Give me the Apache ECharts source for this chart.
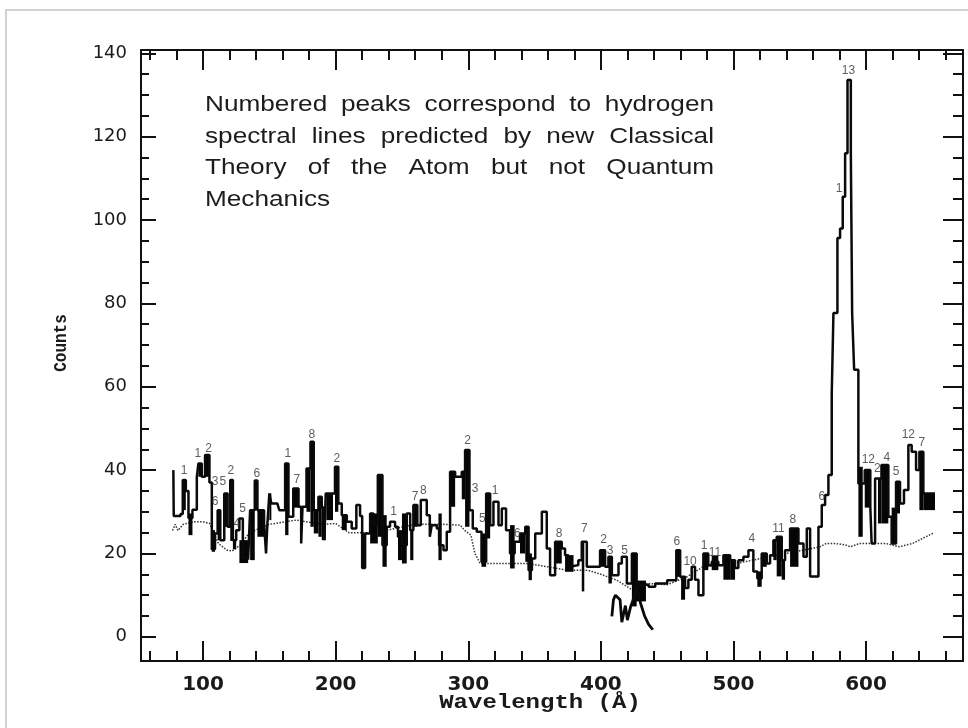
<!DOCTYPE html>
<html>
<head>
<meta charset="utf-8">
<title>Counts vs Wavelength</title>
<script src="https://cdn.jsdelivr.net/npm/echarts@6/dist/echarts.min.js"></script>
<style>
	html, body { margin: 0; padding: 0; background: #fff; }
	#chart { width: 968px; height: 728px; }
</style>
</head>
<body>
<div id="chart"></div>
<script>
	// measured spectrum, [wavelength, counts], each point = left edge of a bin (step line)
	var spectrum = [
		[77.6, 40], [77.9, 29], [83, 29.5], [84.7, 37.6], [87, 35], [89, 28.5], [92, 30.5], [95.3, 38.4],
		[96.5, 41.6], [99, 38.4], [101.5, 43.6], [104.8, 37], [106.6, 21], [109, 24.8], [111, 30.4], [113, 23.2],
		[116, 34.4], [118.5, 26.4], [120.5, 37.6], [122.5, 23.2], [125, 25.6], [127.4, 28.4], [130, 19], [134, 18.5],
		[135.5, 30.4], [139, 37.5], [141, 30.4], [146, 27.2], [147.5, 20], [148.5, 27], [150, 34.4], [151.5, 32],
		[156, 32.4], [157.5, 30.4], [161.9, 41.6], [164.4, 28.8], [168, 35.6], [172, 31.2], [174, 22.4], [175, 31.2],
		[178, 40.4], [181, 46.8], [183.5, 30.4], [187, 33.6], [189.5, 31], [191.5, 23.2], [192.5, 34.4], [199.5, 40.8],
		[202, 32], [204.6, 29.2], [208.4, 27.6], [212.1, 26], [215.6, 31.6], [218.4, 29], [220, 16.5], [222.2, 24.8],
		[226, 29.6], [228.5, 27], [231.8, 38.8], [235.3, 22], [238.5, 26.4], [241, 27.6], [244.8, 26.4], [247, 24],
		[250, 22], [253.6, 29.6], [256.2, 25.6], [258.6, 31.6], [261.6, 26.8], [264.2, 32.8], [268.7, 29.2], [271, 24],
		[272.5, 26.8], [276.3, 26], [278, 22], [281.3, 20.8], [283.8, 25.2], [286.3, 39.6], [290.1, 38.4], [295.1, 39.6],
		[297.6, 44.8], [300.9, 30.4], [303.4, 26], [306.4, 25.2], [310, 18], [313.5, 34.4], [316.5, 26.8], [319, 32.4],
		[322.8, 26.8], [325.3, 30.8], [328.5, 25.6], [331.5, 20], [335, 22.8], [339, 24.8], [343, 26.4], [345.5, 16],
		[348, 18.8], [350.5, 24.8], [355.5, 30], [359.2, 21.2], [361.7, 14.8], [365.5, 22.8], [370.5, 21.2], [373, 19.6],
		[375.5, 17], [379.4, 17.2], [383, 18.4], [385.6, 22.8], [389.4, 16.8], [399.4, 20.8], [403.2, 16.8], [405.7, 19.2],
		[408.3, 14.8], [413.3, 17.6], [415.8, 19.2], [419.6, 12.8], [423.4, 20], [427, 12.5], [436, 12], [441, 12.8],
		[450, 13.6], [456.9, 20.8], [459.8, 14.4], [463.5, 11.7], [466, 13.7], [468.5, 16.8], [471, 13.7], [473.6, 10],
		[477.3, 20], [481, 17.2], [483.6, 18], [488.6, 17.2], [492.4, 19.6], [497.5, 18.4], [501.2, 16.5], [503.7, 18.4],
		[507.5, 19.2], [511.3, 20.8], [515, 15.7], [518, 14], [521.3, 20], [525.1, 17.6], [527.6, 19.6], [530.1, 23.2],
		[532.6, 24], [536.4, 18.4], [538.9, 20.8], [542.7, 26], [549, 22.4], [552.8, 19.2], [555.3, 26], [557.8, 14.5],
		[564.1, 26.4], [566.6, 31.6], [569.1, 34], [571.6, 38.8], [574.1, 58], [575.4, 77.7], [578.4, 95.7], [580.4, 98],
		[582.4, 105.6], [584.2, 116], [586, 133.6], [588.5, 116.4], [589.5, 77.7], [591, 64.1], [594.2, 36.8], [599, 40],
		[603.2, 31.2], [604.2, 22.4], [606.8, 38], [611.6, 41.2], [616.8, 28.8], [619.3, 22.4], [622.6, 37.2], [625.6, 32],
		[628.6, 35.2], [631.9, 46], [634.4, 44.4], [637.7, 40], [640.2, 44.4], [643.2, 34.4], [652, 34.4]
	];

	// dark noisy stretches, [x from, x to, low, high]
	var noiseBlocks = [
		[84.7, 87, 30.4, 37.6], [89, 92, 24.4, 29.6], [96.5, 99, 38.4, 41.6], [101.5, 104.8, 38.4, 43.6],
		[106.6, 109, 20.4, 25.6], [111, 113, 23.2, 30.4], [116, 118, 26.4, 34.4], [120.5, 122.5, 23, 37.6],
		[122.5, 125, 21, 23.2], [127.4, 134, 17.7, 23.2], [135.5, 139, 18.4, 30.4], [139, 141, 30.4, 37.5],
		[141, 146, 24, 30.4], [150, 151.5, 28, 34.4], [161.9, 164.4, 24.4, 41.6], [168, 172, 31, 35.6],
		[178, 181, 30, 40.4], [181, 183.5, 26.4, 46.8], [183.5, 187, 24.8, 30.4], [187, 189.5, 24, 33.6],
		[189.5, 192.5, 23.2, 31], [193, 198, 28, 34.4], [199.5, 202, 30, 40.8], [204.6, 208.4, 25.6, 29.2],
		[220, 222.2, 16.5, 24.8], [226, 231.8, 22.4, 29.6], [231.8, 235.3, 24, 38.8], [235.3, 238.5, 16.8, 29.2],
		[247, 250, 18.4, 25.6], [250, 253.6, 17.6, 29.6], [256.2, 258.6, 18.4, 25.6], [258.6, 261.6, 26.4, 31.6],
		[277.5, 280, 18.4, 29.6], [286.3, 290.1, 31.2, 39.6], [295.1, 297.6, 33, 39.6], [297.6, 300.9, 26.4, 44.8],
		[310, 313.5, 16.8, 24.8], [313.5, 316.5, 23.6, 34.4], [331.5, 335, 16.4, 26.8], [339, 343, 20, 24.8],
		[343, 345.5, 18, 26.4], [345.5, 348, 13.6, 20], [365.5, 370.5, 17.6, 22.8], [373, 379.4, 15.6, 19.6],
		[385.6, 387.5, 10.9, 22.8], [399.4, 403.2, 16.8, 20.8], [405.7, 408.3, 12.8, 19.2], [423.4, 427, 7.3, 20],
		[424, 434, 8.5, 13.5], [456.9, 459.8, 14.4, 20.8], [460.5, 463.5, 8.9, 14.4], [477.3, 481, 16, 20],
		[483.6, 488.6, 16, 19.5], [492.4, 497.5, 13.7, 19.6], [497.5, 501.2, 13.7, 18.4], [518, 521.3, 12, 15.7],
		[521.3, 525.1, 16.8, 20], [530.1, 532.6, 18.4, 23.2], [532.6, 536.4, 14.5, 24], [536.4, 538.9, 13.7, 18.4],
		[542.7, 549, 16.8, 26], [594.2, 597.5, 24, 40.8], [599, 603.2, 31, 40], [609, 611.6, 27.2, 38],
		[611.6, 616.8, 27.2, 41.2], [619.3, 622.6, 22.4, 31], [622.6, 625.6, 29.6, 37.2], [640.2, 643.2, 30.4, 44.4],
		[643.2, 652, 30.4, 34.4]
	];

	// second trace dropping below the spectrum near 410-440 A
	var lowBranch = [
		[408.3, 4.9], [409.5, 8.9], [411, 10], [414.5, 8.9], [415.8, 3.5], [418.5, 7.5], [420, 4], [422.5, 7.3],
		[424.5, 9], [427, 12], [430, 8], [433, 5], [436, 3], [439.2, 1.7]
	];

	// dotted background level
	var background = [
		[77, 25.5], [79, 27], [81, 25.5], [85, 27], [93, 27.6], [100, 27.6], [105, 27.2], [108, 25], [111.6, 22.4],
		[118, 20.8], [122, 20.6], [128, 22], [135, 25], [150, 27], [170, 28], [190, 27], [200, 27.2], [210, 25],
		[230, 25], [260, 27], [280, 27], [294, 26.8], [297, 25.6], [302, 24.4], [305, 20], [309, 17.6], [320, 17.6],
		[344, 17.6], [360, 16.8], [375, 16], [390, 16], [400, 15], [412, 13.6], [424, 11.2], [435, 12.8], [450, 12.5],
		[465, 14.4], [477, 16.8], [502, 17.6], [527, 19.2], [553, 20.8], [565, 21.6], [570, 22.4], [577, 22.4],
		[585, 22], [588, 21.6], [595, 22.4], [605, 22.4], [615, 22.4], [625, 21.6], [635, 22.4], [645, 24], [651, 24.9]
	];

	// numbered peaks, [wavelength, counts, label]
	var peakLabels = [
		[85.7, 39.9, '1'], [96, 44, '1'], [104.1, 45.2, '2'], [109.1, 37.2, '3'], [114.9, 37.2, '5'], [109.1, 32.4, '6'],
		[120.9, 39.9, '2'], [125.4, 27.2, '4'], [129.9, 30.8, '5'], [140.5, 39.1, '6'], [163.9, 43.9, '1'], [170.7, 37.6, '7'],
		[182, 48.6, '8'], [200.8, 42.8, '2'], [243.6, 30, '1'], [259.9, 33.6, '7'], [266.2, 35.1, '8'], [299.4, 47.1, '2'],
		[305.2, 35.6, '3'], [310.7, 28.4, '5'], [320.2, 35.1, '1'], [337.1, 24.8, '6'], [368.5, 24.7, '8'], [387.6, 26, '7'],
		[402, 23.2, '2'], [407, 20.7, '3'], [417.8, 20.7, '5'], [457.3, 22.8, '6'], [467.3, 18, '10'], [477.8, 21.9, '1'],
		[486.1, 20.2, '11'], [513.8, 23.6, '4'], [533.9, 25.9, '11'], [544.7, 28.2, '8'], [566.6, 33.6, '6'],
		[586.7, 135.9, '13'], [579.7, 107.6, '1'], [601.7, 42.4, '12'], [608.5, 40.4, '2'], [615.6, 43.1, '4'],
		[622.6, 39.6, '5'], [631.9, 48.6, '12'], [642, 46.6, '7']
	];

	var xMajor = [100, 200, 300, 400, 500, 600];
	var xMinor = [60, 80, 120, 140, 160, 180, 220, 240, 260, 280, 320, 340, 360, 380, 420, 440, 460, 480, 520, 540, 560, 580, 620, 640, 660];
	var yMajor = [0, 20, 40, 60, 80, 100, 120, 140];
	var yMinor = [5, 10, 15, 25, 30, 35, 45, 50, 55, 65, 70, 75, 85, 90, 95, 105, 110, 115, 125, 130, 135];

	var noteLines = [
		'Numbered peaks correspond to hydrogen',
		'spectral lines predicted by new Classical',
		'Theory of the Atom but not Quantum',
		'Mechanics'
	];

	var X_MIN = 53.2, X_MAX = 673.1, Y_MIN = -5.8, Y_MAX = 140.8;
	var ink = '#111';

	//坐标轴 一条轴只画一种刻度
	function makeAxis(position, ticks, len, withLine, labels, labelStyle) {
		var horiz = position == 'top' || position == 'bottom';
		return {
			type: 'value',
			position: position,
			min: horiz ? X_MIN : Y_MIN,
			max: horiz ? X_MAX : Y_MAX,
			axisLine: { show: withLine, onZero: false, lineStyle: { color: ink, width: 2 } },
			axisTick: { show: true, inside: true, customValues: ticks, length: len, lineStyle: { color: ink, width: 2 } },
			axisLabel: labels ? Object.assign({ customValues: labels, color: '#1a1a1a' }, labelStyle) : { show: false },
			splitLine: { show: false }
		};
	}

	var xLabelStyle = { fontFamily: 'DejaVu Sans', fontSize: 20, fontWeight: 'bold', margin: 14 };
	var yLabelStyle = { fontFamily: 'DejaVu Sans', fontSize: 18, margin: 14 };

	// justified note text, words placed by measuring
	var graphics = [{
		type: 'rect',
		shape: { x: 6, y: 10, width: 980, height: 740 },
		style: { fill: 'none', stroke: '#d2d2d2', lineWidth: 2 },
		silent: true
	}];
	var ctx = document.createElement('canvas').getContext('2d');
	var noteSize = 22, noteScale = 1.19, noteLeft = 205, noteRight = 714, noteTop = 105, noteStep = 31.7;
	ctx.font = noteSize + 'px "Liberation Sans"';
	noteLines.forEach(function (line, i) {
		var words = line.split(' ');
		var widths = words.map(function (w) { return ctx.measureText(w).width * noteScale; });
		var total = widths.reduce(function (a, b) { return a + b; }, 0);
		var gap = (i < noteLines.length - 1 && words.length > 1) ?
			(noteRight - noteLeft - total) / (words.length - 1) : ctx.measureText(' ').width * noteScale;
		var x = noteLeft;
		words.forEach(function (w, j) {
			graphics.push({
				type: 'text', x: x, y: noteTop + i * noteStep, scaleX: noteScale,
				style: { text: w, fontFamily: 'Liberation Sans', fontSize: noteSize, fill: '#1c1c1c', verticalAlign: 'middle' }
			});
			x += widths[j] + gap;
		});
	});
	graphics.push({
		type: 'text', x: 61, y: 343, rotation: Math.PI / 2, scaleY: 1.2,
		style: { text: 'Counts', fontFamily: 'Liberation Mono', fontWeight: 'bold', fontSize: 16, fill: '#1a1a1a', align: 'center', verticalAlign: 'middle' }
	});
	graphics.push({
		type: 'text', x: 540, y: 703, scaleX: 1.2,
		style: { text: 'Wavelength (Å)', fontFamily: 'Liberation Mono', fontWeight: 'bold', fontSize: 20, fill: '#1a1a1a', align: 'center', verticalAlign: 'middle' }
	});

	var mycharts = echarts.init(document.getElementById('chart'), null, { renderer: 'canvas' });
	var options = {
		animation: false,
		backgroundColor: '#fff',
		grid: { left: 141, right: 5, top: 50, bottom: 67 },
		xAxis: [
			makeAxis('bottom', xMajor, 20, true, xMajor, xLabelStyle),
			makeAxis('bottom', xMinor, 10, false),
			makeAxis('top', xMajor, 20, true),
			makeAxis('top', xMinor, 10, false)
		],
		yAxis: [
			makeAxis('left', yMajor, 15, true, yMajor, yLabelStyle),
			makeAxis('left', yMinor, 8, false),
			makeAxis('right', yMajor, 20, true),
			makeAxis('right', yMinor, 10, false)
		],
		graphic: graphics,
		series: [{
			name: 'background',
			type: 'line',
			data: background,
			symbol: 'none',
			z: 1,
			lineStyle: { color: '#333', width: 1.5, type: 'dotted' }
		}, {
			name: 'noise',
			type: 'custom',
			z: 2,
			encode: { x: [0, 1], y: [2, 3] },
			data: noiseBlocks,
			renderItem: function (params, api) {
				var p0 = api.coord([api.value(0), api.value(3)]);
				var p1 = api.coord([api.value(1), api.value(2)]);
				return {
					type: 'rect',
					shape: { x: p0[0], y: p0[1], width: p1[0] - p0[0], height: p1[1] - p0[1] },
					style: { fill: '#050505' }
				};
			}
		}, {
			name: 'counts',
			type: 'line',
			step: 'end',
			data: spectrum,
			symbol: 'none',
			z: 3,
			lineStyle: { color: '#0a0a0a', width: 2.5 }
		}, {
			name: 'low',
			type: 'line',
			data: lowBranch,
			symbol: 'none',
			z: 3,
			lineStyle: { color: '#0a0a0a', width: 2.8 }
		}, {
			name: 'peaks',
			type: 'scatter',
			data: peakLabels,
			symbolSize: 1,
			z: 4,
			itemStyle: { color: 'rgba(0,0,0,0)' },
			label: {
				show: true,
				position: 'inside',
				formatter: function (p) { return p.value[2]; },
				fontFamily: 'Liberation Sans',
				fontSize: 12,
				color: '#333'
			}
		}]
	};
	mycharts.setOption(options);
	window.onresize = mycharts.resize;
</script>
</body>
</html>
